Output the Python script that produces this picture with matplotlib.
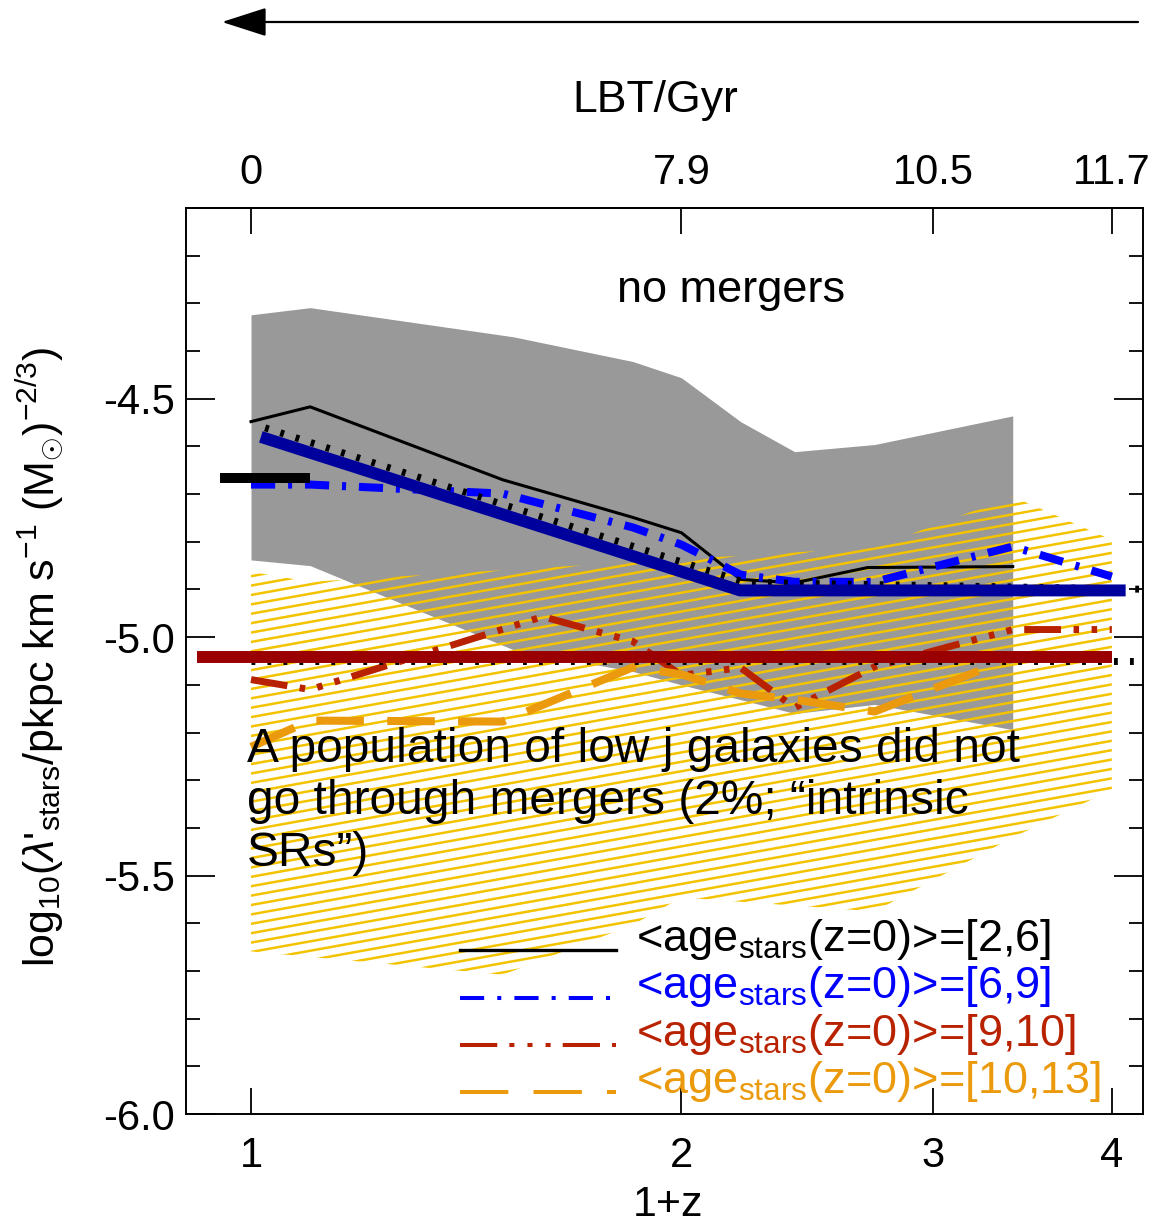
import matplotlib
matplotlib.use("Agg")
import numpy as np
import matplotlib.pyplot as plt
from matplotlib.lines import Line2D
from matplotlib.legend_handler import HandlerLine2D
from matplotlib.patches import Polygon, FancyArrowPatch, ArrowStyle
from matplotlib.collections import LineCollection
from matplotlib.ticker import FixedLocator, MultipleLocator, NullLocator, FormatStrFormatter

plt.rcParams['font.family'] = ['Liberation Sans', 'DejaVu Sans']
plt.rcParams['mathtext.fontset'] = 'custom'
plt.rcParams['mathtext.rm'] = 'Liberation Sans'
plt.rcParams['mathtext.it'] = 'Liberation Sans:italic'
plt.rcParams['mathtext.bf'] = 'Liberation Sans:bold'
plt.rcParams['axes.unicode_minus'] = False

# ---- data: (1+z) sampling and log10(lambda'_stars) values ----
band_x = [1.0, 1.1, 1.525, 1.85, 2.0, 2.2, 2.4, 2.73, 3.41]
band_hi = [-4.324, -4.309, -4.370, -4.422, -4.456, -4.548, -4.611, -4.596, -4.536]
band_lo = [-4.838, -4.850, -5.026, -5.072, -5.100, -5.131, -5.160, -5.141, -5.194]

# region occupied by the low-j population (hatched)
lowj_top_x = [1.0, 1.1, 2.73, 3.41, 4.0]
lowj_top_y = [-4.863, -4.884, -4.812, -4.705, -4.796]
lowj_bot_x = [1.0, 1.5, 1.85, 2.0, 2.73, 3.41, 4.0]
lowj_bot_y = [-5.659, -5.708, -5.603, -5.546, -5.575, -5.420, -5.320]

# median tracks per stellar-age bin
age26_x = [1.0, 1.1, 1.5, 1.85, 2.0, 2.2, 2.4, 2.7, 3.41]
age26_y = [-4.548, -4.517, -4.670, -4.749, -4.781, -4.879, -4.886, -4.854, -4.852]

age69_x = [1.0, 1.1, 1.5, 1.85, 2.0, 2.2, 2.4, 2.73, 3.41, 4.0]
age69_y = [-4.680, -4.680, -4.699, -4.770, -4.806, -4.869, -4.884, -4.884, -4.810, -4.873]

age910_x = [1.0, 1.1, 1.6, 1.85, 2.0, 2.2, 2.4, 2.73, 3.41, 4.0]
age910_y = [-5.089, -5.110, -4.957, -5.009, -5.080, -5.064, -5.148, -5.062, -4.984, -4.984]

age1013_x = [1.0, 1.1, 1.5, 1.85, 2.0, 2.2, 2.4, 2.73, 3.41]
age1013_y = [-5.230, -5.175, -5.177, -5.063, -5.078, -5.118, -5.131, -5.156, -5.043]

# broken fits and reference levels
fit_hi_x = [1.016, 2.198, 4.09]
fit_hi_y = [-4.580, -4.902, -4.902]
ref_hi_x = [1.023, 2.215, 4.3]
ref_hi_y = [-4.561, -4.885, -4.900]
fit_lo_x = [0.917, 4.0]
fit_lo_y = [-5.042, -5.042]
ref_lo_x = [1.0, 4.3]
ref_lo_y = [-5.051, -5.051]
z0_x = [0.951, 1.1]
z0_y = [-4.666, -4.666]

xticks = [1, 2, 3, 4]
xticklabels = ['1', '2', '3', '4']
lbt_ticks = [1, 2, 3, 4]
lbt_labels = ['0', '7.9', '10.5', '11.7']

legend_labels = [r'<age$_{\rm stars}$(z=0)>=[2,6]',
                 r'<age$_{\rm stars}$(z=0)>=[6,9]',
                 r'<age$_{\rm stars}$(z=0)>=[9,10]',
                 r'<age$_{\rm stars}$(z=0)>=[10,13]']

# ---- colours ----
grey = '#999999'
gold = '#F4C300'
c_black = 'black'
c_blue = '#0000FF'
c_navy = '#00009C'
c_red = '#B82200'
c_darkred = '#9A0000'
c_orange = '#EA9A0C'


class BaselineLine(HandlerLine2D):
    """Legend line drawn at the text baseline instead of mid-height."""
    def create_artists(self, legend, orig_handle, xdescent, ydescent,
                       width, height, fontsize, trans):
        arts = super().create_artists(legend, orig_handle, xdescent, ydescent,
                                      width, height, fontsize, trans)
        for a in arts:
            a.set_ydata(np.asarray(a.get_ydata()) - 0.33 * fontsize)
        return arts


W, H = 1164, 1225
fig = plt.figure(figsize=(W / 100, H / 100), dpi=100)
ax = fig.add_axes([186 / W, (H - 1114) / H, 957 / W, 906 / H])
ax.set_xscale('log')

# scatter band of the no-merger sample
ax.fill_between(band_x, band_lo, band_hi, color=grey, lw=0, zorder=1)

# hatched low-j region: thin inclined lines clipped to the polygon
poly_xy = np.column_stack([np.r_[lowj_top_x, lowj_bot_x[::-1]],
                           np.r_[lowj_top_y, lowj_bot_y[::-1]]])
poly = Polygon(poly_xy, closed=True, facecolor='none', edgecolor='none',
               transform=ax.transData)
ax.add_patch(poly)
slope, step, b0 = 0.19, 0.01037, 0.1659
segs = [[(0, b0 + k * step), (1, b0 + k * step + slope)] for k in range(-60, 120)]
lc = LineCollection(segs, colors=gold, linewidths=1.8, transform=ax.transAxes, zorder=2)
ax.add_collection(lc, autolim=False)
lc.set_clip_path(poly)

# age-bin tracks
ax.plot(age26_x, age26_y, color=c_black, lw=2.2, zorder=3)
ax.plot(age69_x, age69_y, color=c_blue, lw=5.8, ls=(0, (3, 1.6, 0.5, 1.6)), zorder=3)
ax.plot(age910_x, age910_y, color=c_red, lw=5.0,
        ls=(0, (5.3, 1.8, 0.8, 1.8, 0.8, 1.8, 0.8, 1.8)), zorder=3)
ax.plot(age1013_x, age1013_y, color=c_orange, lw=5.8, ls=(0, (5.9, 2.9)), zorder=3)

# fits and reference levels
ax.plot(ref_hi_x, ref_hi_y, color='black', lw=5.0, ls=(0, (0.55, 1.75)), zorder=4)
ax.plot(fit_hi_x, fit_hi_y, color=c_navy, lw=8.6, solid_capstyle='butt', zorder=5)
ax.plot(ref_lo_x, ref_lo_y, color='black', lw=5.0, ls=(0, (0.55, 1.75)), zorder=4)
ax.plot(fit_lo_x, fit_lo_y, color=c_darkred, lw=8.6, solid_capstyle='butt', zorder=5)
ax.plot(z0_x, z0_y, color='black', lw=7.2, solid_capstyle='butt', zorder=5,
        clip_on=False)

# axes
ax.set_xlim(0.9006, 4.206)
ax.set_ylim(-6.0, -4.1)
ax.xaxis.set_major_locator(FixedLocator(xticks))
ax.set_xticklabels(xticklabels)
ax.xaxis.set_minor_locator(NullLocator())
ax.yaxis.set_major_locator(MultipleLocator(0.5))
ax.yaxis.set_minor_locator(MultipleLocator(0.1))
ax.yaxis.set_major_formatter(FormatStrFormatter('%.1f'))
for s in ax.spines.values():
    s.set_linewidth(1.4)
ax.tick_params(axis='both', which='both', direction='in', right=True, width=1.3)
ax.tick_params(axis='y', which='major', length=21, pad=8, labelsize=30)
ax.tick_params(axis='y', which='minor', length=10)
ax.tick_params(axis='x', which='major', length=19, pad=16, labelsize=30)

sec = ax.secondary_xaxis('top')
sec.set_xticks(lbt_ticks, labels=lbt_labels)
sec.xaxis.set_minor_locator(NullLocator())
sec.tick_params(axis='x', which='major', direction='in', length=19, width=1.3,
                pad=11, labelsize=30)
sec.spines['top'].set_linewidth(1.4)

ax.set_xlabel('1+z', fontsize=31)
ax.xaxis.set_label_coords(0.504, -0.078)
ax.set_ylabel(r"log$_{10}$($\lambda$'$_{\rm stars}$/pkpc km s$^{-1}$ (M$_{\odot}$)$^{-2/3}$)",
              fontsize=31)
ax.yaxis.set_label_coords(-0.124, 0.505)

fig.text(655 / W, 1 - 80 / H, 'LBT/Gyr', fontsize=32, ha='center', va='top')

arrow = FancyArrowPatch((1138 / W, 1 - 22 / H), (222 / W, 1 - 22 / H),
                        transform=fig.transFigure,
                        arrowstyle=ArrowStyle('-|>', head_length=28, head_width=9),
                        mutation_scale=1, lw=1.6, color='black',
                        shrinkA=0, shrinkB=0)
fig.add_artist(arrow)

ax.text(0.4504, 0.896, 'no mergers', fontsize=32.5, transform=ax.transAxes,
        va='baseline', ha='left', zorder=10)
ax.text(0.0637, 0.4272,
        'A population of low j galaxies did not\n'
        'go through mergers (2%; \u201cintrinsic\n'
        'SRs\u201d)',
        fontsize=34.5, transform=ax.transAxes, va='top', ha='left',
        linespacing=1.2, zorder=10)

# legend
handles = [
    Line2D([], [], color=c_black, lw=2.4),
    Line2D([], [], color=c_blue, lw=2.9, ls=(0, (6, 3.25, 1, 3.25))),
    Line2D([], [], color=c_red, lw=2.9, ls=(0, (9.25, 3, 1.25, 3.25, 1.25, 3.25, 1.25, 3))),
    Line2D([], [], color=c_orange, lw=2.9, ls=(0, (12, 6.25))),
]
leg = ax.legend(handles, legend_labels, loc='lower left',
                bbox_to_anchor=((460 - 186) / 957, (1114 - 1104) / 906),
                frameon=False, fontsize=32.5, handlelength=3.45, handletextpad=0.45,
                labelspacing=0.05, borderpad=0, borderaxespad=0,
                labelcolor=[c_black, c_blue, c_red, c_orange],
                handler_map={Line2D: BaselineLine()})
leg.set_zorder(10)

fig.savefig('out.png', dpi=100)
